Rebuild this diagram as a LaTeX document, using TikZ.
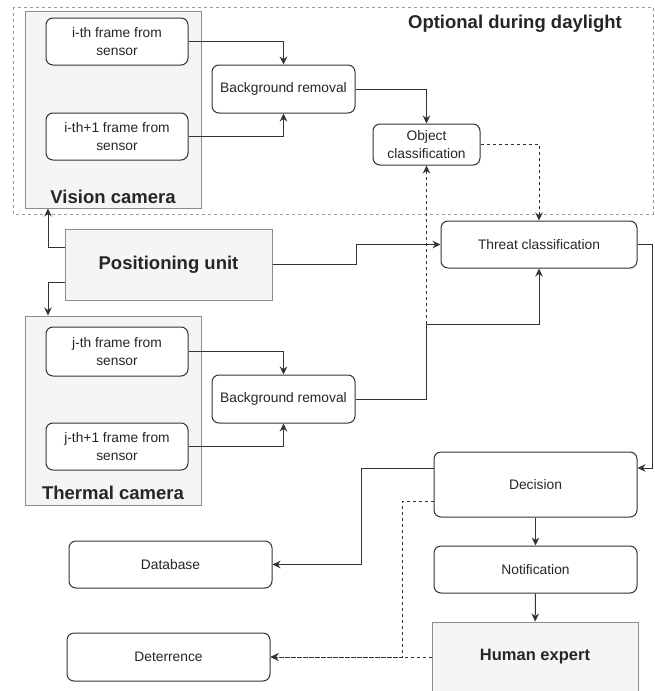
\documentclass[tikz,border=0pt]{standalone}
\usepackage{fontspec}
\setmainfont{Liberation Sans}
\usetikzlibrary{arrows.meta}
\definecolor{linecol}{HTML}{333333}
\definecolor{txtcol}{HTML}{262626}
\definecolor{grayfill}{HTML}{F5F5F5}
\definecolor{graystroke}{HTML}{8C8C8C}
\definecolor{zonecol}{HTML}{9A9A9A}
\newcommand{\txtsize}{\fontsize{13.8}{17.5}\selectfont}
\newcommand{\bigsize}{\fontsize{18.5}{22}\selectfont\bfseries}
\newcommand{\lw}{1pt}
\tikzset{
  box/.style={draw=linecol, line width=\lw, rounded corners=7pt, fill=white,
    align=center, text=txtcol, font=\txtsize, inner sep=0pt},
  graybox/.style={draw=graystroke, fill=grayfill, line width=1pt, inner sep=0pt,
    text=txtcol},
  arr/.style={draw=linecol, line width=\lw, -{Stealth[length=8pt,width=7.5pt]}},
  dsh/.style={dash pattern=on 3pt off 3pt},
  title/.style={text=txtcol, font=\bigsize, inner sep=0pt}
}

\begin{document}
\begin{tikzpicture}[x=1pt, y=-1pt]
\useasboundingbox (0,0) rectangle (654,691);
\clip (0,0) rectangle (654,691);
% daylight zone
\draw[zonecol, line width=0.9pt, dsh] (13,7) rectangle (653,214);
\node[title] (zone) at (515,24) {Optional during daylight};
% cameras
\node[graybox, minimum width=176, minimum height=197] (vis) at (113,109.5) {};
\node[title] (vislabel) at (113,197) {Vision camera};
\node[graybox, minimum width=176, minimum height=189] (therm) at (113,410.5) {};
\node[title] (thermlabel) at (113,493) {Thermal camera};
\node[graybox, minimum width=207, minimum height=71, font=\bigsize] (pos) at (168.5,264.5) {Positioning unit};
% frames
\node[box, minimum width=142, minimum height=47] (ith) at (117,41.5) {i-th frame from\\sensor};
\node[box, minimum width=142, minimum height=47] (ith1) at (117,136.5) {i-th+1 frame from\\sensor};
\node[box, minimum width=142, minimum height=49] (jth) at (117,351.5) {j-th frame from\\sensor};
\node[box, minimum width=142, minimum height=47] (jth1) at (117,446.5) {j-th+1 frame from\\sensor};
% processing
\node[box, minimum width=143, minimum height=48] (bgv) at (283.5,89) {Background removal};
\node[box, minimum width=143, minimum height=48] (bgt) at (283.5,399) {Background removal};
\node[box, minimum width=107, minimum height=41] (obj) at (426.5,144.5) {Object\\classification};
\node[box, minimum width=196, minimum height=47] (threat) at (539,244.5) {Threat classification};
\node[box, minimum width=203, minimum height=65] (dec) at (535.5,484.5) {Decision};
\node[box, minimum width=203, minimum height=47] (notif) at (535.5,569.5) {Notification};
\node[box, minimum width=203, minimum height=47] (db) at (170.5,564.5) {Database};
\node[box, minimum width=203, minimum height=48] (det) at (168.5,657) {Deterrence};
\node[graybox, minimum width=206, minimum height=70, font=\fontsize{16.5}{20}\selectfont\bfseries] (hum) at (535,657) {Human expert};
\coordinate (j1) at (426.5,324);
% connectors
\draw[arr] (ith) -| (bgv);
\draw[arr] (ith1) -| (bgv);
\draw[arr] (jth) -| (bgt);
\draw[arr] (jth1) -| (bgt);
\draw[arr] (bgv) -| (obj);
\draw[arr, dsh] (obj) -| (threat);
\draw[arr] ([yshift=17.5]pos.west) -| ([xshift=-65]vis.south);
\draw[arr] ([yshift=-17.5]pos.west) -| ([xshift=-65]therm.north);
\draw[arr] (pos.east) -- ++(84,0) |- (threat.west);
\draw[arr] (bgt) -| (j1) -| (threat);
\draw[arr, dsh] (j1) -- (obj);
\draw[arr] (threat.east) -- ++(15,0) |- ([yshift=16.5]dec.east);
\draw[arr] ([yshift=16.5]dec.west) -- ++(-72,0) |- (db);
\draw[arr] (dec) -- (notif);
\draw[arr] (notif) -- (hum);
\draw[arr, dsh] ([yshift=-16.5]dec.west) -- ++(-31,0) |- (det);
\draw[arr, dsh] (hum) -- (det);
\end{tikzpicture}
\end{document}
